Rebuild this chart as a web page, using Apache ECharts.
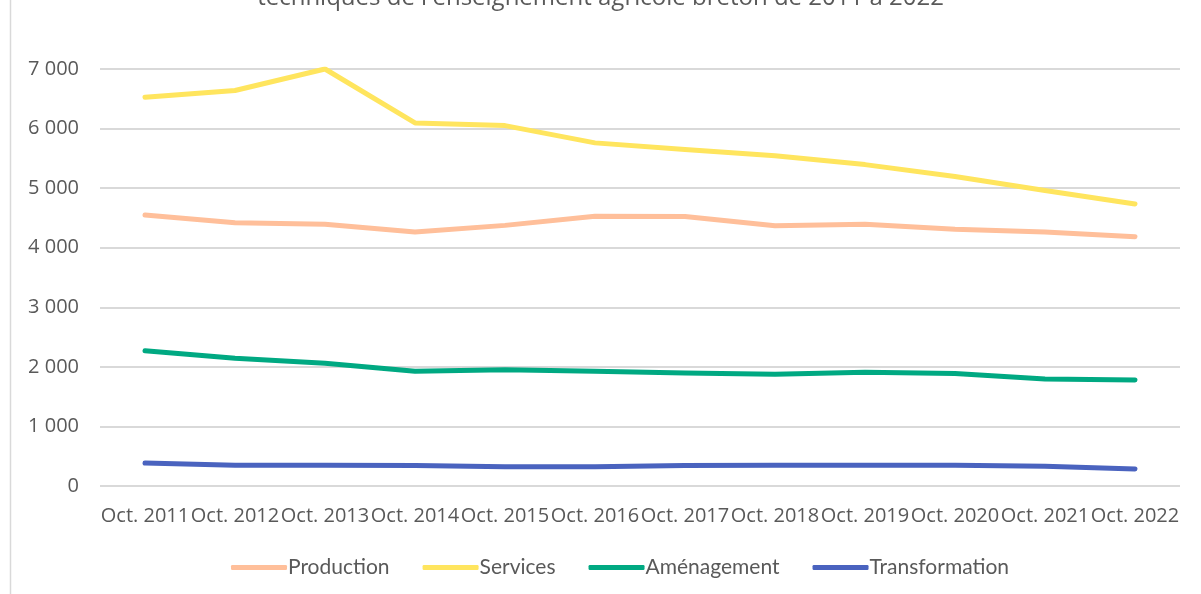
<!DOCTYPE html>
<html><head><meta charset="utf-8">
<script src="https://cdn.jsdelivr.net/npm/echarts@6/dist/echarts.min.js"></script>
<style>html,body{margin:0;padding:0;background:#fff}#c{width:1201px;height:594px}</style>
</head><body><div id="c"></div>
<script>
const categories = ['Oct. 2011','Oct. 2012','Oct. 2013','Oct. 2014','Oct. 2015','Oct. 2016','Oct. 2017','Oct. 2018','Oct. 2019','Oct. 2020','Oct. 2021','Oct. 2022'];
const production = [4550, 4420, 4395, 4265, 4375, 4530, 4525, 4370, 4395, 4310, 4265, 4185];
const services = [6525, 6640, 7000, 6095, 6050, 5760, 5650, 5545, 5395, 5195, 4960, 4735];
const amenagement = [2270, 2145, 2060, 1925, 1950, 1925, 1895, 1875, 1910, 1890, 1795, 1780];
const transformation = [385, 350, 350, 345, 325, 325, 345, 350, 350, 350, 330, 285];
const titleText = "techniques de l'enseignement agricole breton de 2011 à 2022";

const fmt = v => String(v).replace(/\B(?=(\d{3})+(?!\d))/g, ' ');
const font = '"Open Sans", Lato, sans-serif';
const mk = (name, data, color) => ({
  name, type: 'line', data, symbol: 'none', smooth: false,
  lineStyle: { width: 5, color, cap: 'round', join: 'round' }, itemStyle: { color }
});
const chart = echarts.init(document.getElementById('c'));
chart.setOption({
  animation: false,
  title: { text: titleText, left: 'center', top: -19, textStyle: { fontFamily: font, fontSize: 24, fontWeight: 'normal', color: '#595959' } },
  graphic: [{ type: 'line', shape: { x1: 10.5, y1: 0, x2: 10.5, y2: 594 }, style: { stroke: '#d9d9d9', lineWidth: 1.5 } }],
  grid: { left: 100, right: 21, top: 69, bottom: 108 },
  legend: {
    bottom: 11, left: 226, itemWidth: 56, itemHeight: 5, itemGap: 33,
    icon: 'roundRect',
    textStyle: { fontFamily: 'Lato, sans-serif', fontSize: 21, color: '#595959', padding: [0,0,0,-4] },
    data: ['Production','Services','Aménagement','Transformation']
  },
  xAxis: {
    type: 'category', data: categories, boundaryGap: true,
    axisLine: { show: false }, axisTick: { show: false },
    axisLabel: { interval: 0, margin: 20, fontFamily: font, fontSize: 20, color: '#595959' }
  },
  yAxis: {
    type: 'value', min: 0, max: 7000, interval: 1000,
    axisLabel: { formatter: fmt, margin: 21, fontFamily: font, fontSize: 20, color: '#595959' },
    splitLine: { lineStyle: { color: '#d9d9d9', width: 2 } },
    axisLine: { show: false }, axisTick: { show: false }
  },
  series: [
    mk('Production', production, '#FFBF9A'),
    mk('Services', services, '#FFE55E'),
    mk('Aménagement', amenagement, '#00A982'),
    mk('Transformation', transformation, '#4A63BF')
  ]
});
</script></body></html>
